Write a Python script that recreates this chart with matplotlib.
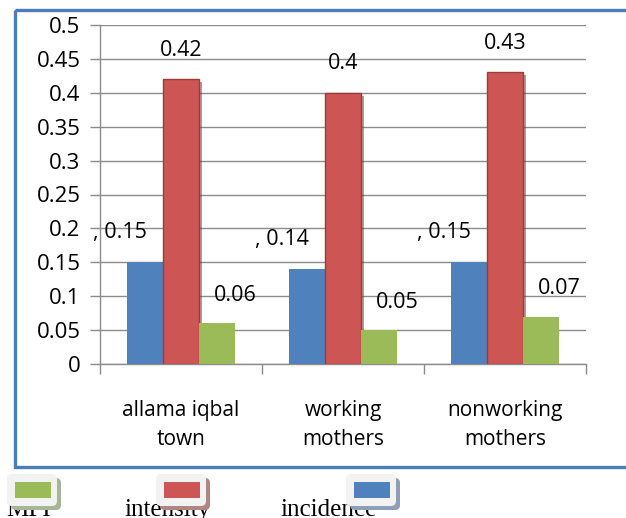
import matplotlib.pyplot as plt
import matplotlib.patheffects as pe
from matplotlib.patches import Rectangle, FancyBboxPatch
import numpy as np

# group labels and the three series
groups = ['allama iqbal\ntown', 'working\nmothers', 'nonworking\nmothers']
incidence = [0.15, 0.14, 0.15]
intensity = [0.42, 0.40, 0.43]
mpi = [0.06, 0.05, 0.07]
legend_names = ['MPI', 'intensity', 'incidence']

BLUE = '#4F81BD'
RED = '#CD5654'
GREEN = '#9BBB59'
GRID = '#8C8C8C'
W, H = 626, 518

plt.rcParams['font.family'] = ['Open Sans', 'DejaVu Sans']

fig = plt.figure(figsize=(W / 100, H / 100), dpi=100)
ax = fig.add_axes([100 / W, (H - 364) / H, 486 / W, 339 / H])

x = np.arange(len(groups))
bw = 0.222

b_inc = ax.bar(x - bw, incidence, bw, color=BLUE, zorder=3)
b_int = ax.bar(x, intensity, bw, color=RED, edgecolor='#9E3B39', linewidth=1.0, zorder=3,
               path_effects=[pe.withSimplePatchShadow(offset=(2, -2), shadow_rgbFace='#7A2E2C', alpha=0.5)])
b_mpi = ax.bar(x + bw, mpi, bw, color=GREEN, zorder=3)

# value labels
for xi, v in zip(x, incidence):
    ax.annotate(f', {v:.2f}', xy=(xi - 1.5 * bw, v), xytext=(-7, 30), textcoords='offset pixels',
                ha='center', va='center', fontsize=15.5)
for xi, v in zip(x, intensity):
    ax.annotate(f'{v:g}', xy=(xi, v), xytext=(0, 29), textcoords='offset pixels',
                ha='center', va='center', fontsize=15.5)
for xi, v in zip(x, mpi):
    ax.annotate(f'{v:.2f}', xy=(xi + 1.5 * bw, v), xytext=(0, 28), textcoords='offset pixels',
                ha='center', va='center', fontsize=15.5)

ax.set_xlim(-0.5, 2.5)
ax.set_ylim(0, 0.5)
ax.set_yticks(np.arange(0, 0.501, 0.05))
ax.set_yticklabels(['0', '0.05', '0.1', '0.15', '0.2', '0.25', '0.3', '0.35', '0.4', '0.45', '0.5'])
ax.yaxis.grid(True, color=GRID, linewidth=1.0, zorder=0)
ax.set_axisbelow(True)

ax.set_xticks(x)
ax.set_xticklabels(groups, fontsize=15, linespacing=1.5)
ax.set_xticks([-0.5, 0.5, 1.5, 2.5], minor=True)
ax.tick_params(axis='x', which='major', length=0, pad=26)
ax.tick_params(axis='x', which='minor', length=7, color=GRID, width=1.0)
ax.tick_params(axis='y', length=7, color=GRID, width=1.0, labelsize=16, pad=7)

for s in ['top', 'right']:
    ax.spines[s].set_visible(False)
for s in ['left', 'bottom']:
    ax.spines[s].set_color(GRID)
    ax.spines[s].set_linewidth(1.0)

# overlay in pixel coordinates for the frame and the legend
ov = fig.add_axes([0, 0, 1, 1], zorder=5)
ov.set_xlim(0, W)
ov.set_ylim(H, 0)
ov.axis('off')
ov.patch.set_alpha(0)

ov.add_patch(Rectangle((15, 10), 700, 457, fill=False, edgecolor='#4A7EBB', linewidth=2.4))

legend_colors = [GREEN, RED, BLUE]
shadow_colors = ['#A9B598', '#B08683', '#8E9EB8']
text_x = [6, 124, 280]
icon_x = [7, 156, 346]
for name, tx in zip(legend_names, text_x):
    ov.text(tx, 516, name, fontsize=18, family='Liberation Serif', ha='left', va='baseline', zorder=1)
for c, sc, ix in zip(legend_colors, shadow_colors, icon_x):
    ov.add_patch(FancyBboxPatch((ix + 4, 478), 50, 32, boxstyle='round,pad=0,rounding_size=5',
                                facecolor=sc, edgecolor='none', zorder=2))
    ov.add_patch(FancyBboxPatch((ix, 474), 50, 32, boxstyle='round,pad=0,rounding_size=5',
                                facecolor='#F2F2F2', edgecolor='none', zorder=3))
    ov.add_patch(Rectangle((ix + 8, 482), 36, 16, facecolor=c, edgecolor='none', zorder=4))

fig.savefig('out.png', dpi=100)
